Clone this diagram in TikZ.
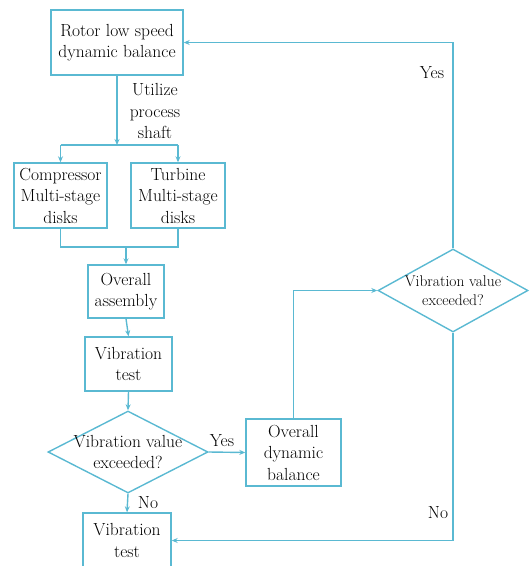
\documentclass[tikz,border=0pt]{standalone}
\usetikzlibrary{shapes.geometric,arrows.meta}
\definecolor{lineblue}{HTML}{5AB9D2}
\begin{document}
\begin{tikzpicture}[x=1pt,y=-1pt,
  every node/.style={font=\rmfamily\fontsize{17.5}{21.5}\selectfont, text=black},
  box/.style={draw=lineblue, line width=1.4pt, rectangle, align=center, inner sep=0pt},
  dia/.style={draw=lineblue, line width=1.4pt, diamond, inner sep=0pt},
  conn/.style={draw=lineblue, line width=1.4pt},
  arr/.style={conn, -{Stealth[length=6pt,width=5pt,inset=2pt]}},
  lbl/.style={inner sep=0pt}
]
\useasboundingbox (0,0) rectangle (531,566);
% nodes
\node[box, minimum width=132pt, minimum height=65pt] (rotor) at (117,42.5) {Rotor low speed\\dynamic balance};
\node[box, minimum width=93pt, minimum height=65pt] (comp) at (60.5,195.5) {Compressor\\Multi-stage\\disks};
\node[box, minimum width=94pt, minimum height=65pt] (turb) at (178,195.5) {Turbine\\Multi-stage\\disks};
\node[box, minimum width=76pt, minimum height=53pt] (asm) at (126,291.5) {Overall\\assembly};
\node[box, minimum width=87pt, minimum height=54pt] (vt1) at (128.5,364) {Vibration\\test};
\node[dia, minimum width=160pt, minimum height=82pt] (d1) at (128,452) {};
\node[lbl, align=center] (d1t) at (d1.center) {Vibration value\\exceeded?};
\node[box, minimum width=95pt, minimum height=67pt] (odb) at (293.5,452.5) {Overall\\dynamic\\balance};
\node[dia, minimum width=150pt, minimum height=83pt] (d2) at (453,290.5) {};
\node[lbl, align=center, font=\rmfamily\fontsize{15.5}{19}\selectfont] (d2t) at (d2.center) {Vibration value\\exceeded?};
\node[box, minimum width=88pt, minimum height=55pt] (vt2) at (127,540.5) {Vibration\\test};
% labels
\node[lbl, align=center] (ups) at (155,111) {Utilize\\process\\shaft};
\node[lbl] (yes1) at (222,441) {Yes};
\node[lbl] (no1) at (148,503) {No};
\node[lbl] (yes2) at (432,73) {Yes};
\node[lbl] (no2) at (438,513) {No};
% junctions
\coordinate (j1) at (117,145);
\coordinate (j2) at (126,247);
% connectors
\draw[arr] (rotor.south) -- (j1);
\draw[conn] (j1 -| comp.north) -- (j1 -| turb.north);
\draw[arr] (j1 -| comp.north) -- (comp.north);
\draw[arr] (j1 -| turb.north) -- (turb.north);
\draw[conn] (comp.south) |- (j2);
\draw[conn] (turb.south) |- (j2);
\draw[arr] (j2) -- (asm.north);
\draw[arr] (asm.south) -- (vt1.north);
\draw[arr] (vt1.south) -- (d1.north);
\draw[arr] (d1.east) -- (odb.west);
\draw[arr] (d1.south) -- (vt2.north);
\draw[arr] (odb.north) |- (d2.west);
\draw[arr] (d2.north) |- (rotor.east);
\draw[arr] (d2.south) |- (vt2.east);
\end{tikzpicture}
\end{document}
